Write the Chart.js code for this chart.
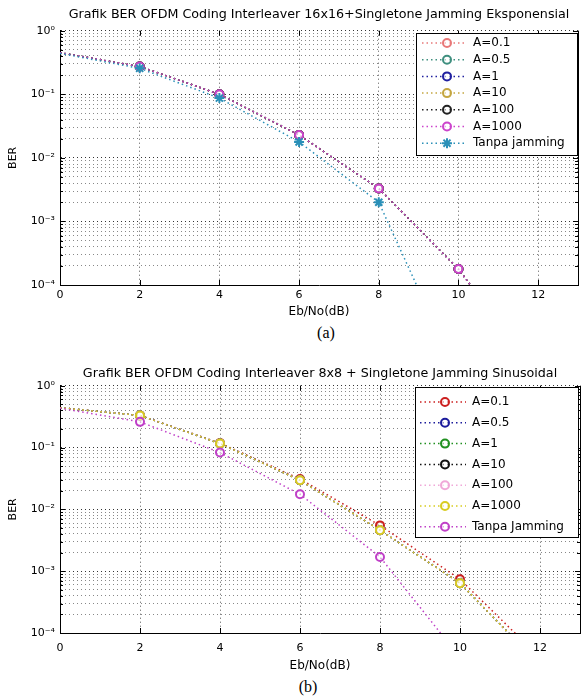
<!DOCTYPE html>
<html lang="id">
<head>
<meta charset="UTF-8">
<title>Grafik BER OFDM</title>
<script src="https://cdn.jsdelivr.net/npm/chart.js"></script>
<style>
  body { margin: 0; background: #fff; width: 588px; height: 698px; position: relative; overflow: hidden; }
  .box { position: absolute; left: 0; }
  .cap { position: absolute; font-family: "Liberation Serif", serif; font-size: 16px; color: #000; transform: translate(-50%, -50%); }
</style>
</head>
<body>
<div class="box" style="top:0"><canvas id="chartA" width="588" height="322"></canvas></div>
<div class="cap" style="left:326px; top:333px">(a)</div>
<div class="box" style="top:358px"><canvas id="chartB" width="588" height="318"></canvas></div>
<div class="cap" style="left:308px; top:687px">(b)</div>
<script>
// data
const X_VALS = [0, 2, 4, 6, 8, 10, 12];
const X_TICKS = [0, 2, 4, 6, 8, 10, 12];
const Y_DECADES = [1e-4, 1e-3, 1e-2, 1e-1, 1];
const Y_LABELS = ['10\u207B\u2074', '10\u207B\u00B3', '10\u207B\u00B2', '10\u207B\u00B9', '10\u2070'];

// (a) eksponensial, 16x16
const TITLE_A = 'Grafik BER OFDM Coding Interleaver 16x16+Singletone Jamming Eksponensial';
const LABELS_A = ['A=0.1', 'A=0.5', 'A=1', 'A=10', 'A=100', 'A=1000', 'Tanpa jamming'];
const COLORS_A = ['#e87878', '#3f8f7f', '#2020a0', '#c4a640', '#222222', '#cc44cc', '#2a90b8'];
const BER_A_JAM = [0.45, 0.274, 0.1, 0.0229, 0.0033, 0.000178, 0.0000038];
const BER_A_NOJAM = [0.44, 0.256, 0.087, 0.0178, 0.002, 0.0000036, 0.00000001];

// (b) sinusoidal, 8x8
const TITLE_B = 'Grafik BER OFDM Coding Interleaver 8x8 + Singletone Jamming Sinusoidal';
const LABELS_B = ['A=0.1', 'A=0.5', 'A=1', 'A=10', 'A=100', 'A=1000', 'Tanpa Jamming'];
const COLORS_B = ['#cc2020', '#1c1c9c', '#209020', '#111111', '#f0a8d8', '#d8cc20', '#c040c8'];
const BER_B_A01 = [0.44, 0.33, 0.118, 0.031, 0.0055, 0.00074, 0.00004];
const BER_B_JAM = [0.44, 0.33, 0.116, 0.0295, 0.0046, 0.00064, 0.00003];
const BER_B_NOJAM = [0.43, 0.26, 0.083, 0.0175, 0.0017, 0.00004, 0.0000001];

const FONT = '"DejaVu Sans", sans-serif';

// all 1..9 x 10^n positions for the log grid
const Y_GRID = [];
Y_DECADES.slice(0, -1).forEach(d => { for (let k = 1; k <= 9; k++) Y_GRID.push(k * d); });
Y_GRID.push(1);

function isDecade(v) {
  return Y_DECADES.findIndex(d => Math.abs(v / d - 1) < 1e-9);
}

function series(label, color, values, idx, total, star) {
  return {
    label: label,
    data: X_VALS.map((x, i) => ({ x: x, y: values[i] })),
    borderColor: color,
    borderWidth: 1.5,
    borderDash: [1.5, 3],
    tension: 0,
    cubicInterpolationMode: 'default',
    pointStyle: star ? 'star' : 'circle',
    pointRadius: c => (c.raw && c.raw.x === 0) ? 0 : (star ? 5 : 4),
    pointBorderWidth: 2,
    pointBorderColor: color,
    pointBackgroundColor: 'rgba(255,255,255,0.55)',
    order: total - idx,
    fill: false
  };
}

// inward ticks + solid right edge, like the matlab box
const frameTicks = {
  id: 'frameTicks',
  afterDraw(chart) {
    const { ctx, chartArea: a, scales } = chart;
    ctx.save();
    ctx.strokeStyle = '#000';
    ctx.lineWidth = 1;
    ctx.setLineDash([]);
    ctx.beginPath();
    ctx.moveTo(Math.round(a.right) + 0.5, a.top);
    ctx.lineTo(Math.round(a.right) + 0.5, a.bottom);
    X_TICKS.forEach(v => {
      const px = Math.round(scales.x.getPixelForValue(v)) + 0.5;
      ctx.moveTo(px, a.bottom); ctx.lineTo(px, a.bottom - 5);
      ctx.moveTo(px, a.top); ctx.lineTo(px, a.top + 5);
    });
    Y_GRID.forEach(v => {
      const py = Math.round(scales.y.getPixelForValue(v)) + 0.5;
      const len = isDecade(v) >= 0 ? 5 : 3;
      ctx.moveTo(a.left, py); ctx.lineTo(a.left + len, py);
      ctx.moveTo(a.right, py); ctx.lineTo(a.right - len, py);
    });
    ctx.stroke();
    ctx.restore();
  }
};

function drawMarker(ctx, ds, x, y) {
  ctx.strokeStyle = ds.pointBorderColor;
  ctx.lineWidth = ds.pointBorderWidth;
  if (ds.pointStyle === 'star') {
    const r = 5, d = r * Math.SQRT1_2;
    ctx.beginPath();
    ctx.moveTo(x - r, y); ctx.lineTo(x + r, y);
    ctx.moveTo(x, y - r); ctx.lineTo(x, y + r);
    ctx.moveTo(x - d, y - d); ctx.lineTo(x + d, y + d);
    ctx.moveTo(x - d, y + d); ctx.lineTo(x + d, y - d);
    ctx.stroke();
  } else {
    ctx.beginPath();
    ctx.arc(x, y, 4, 0, Math.PI * 2);
    ctx.fillStyle = ds.pointBackgroundColor;
    ctx.fill();
    ctx.stroke();
  }
}

const legendBox = {
  id: 'legendBox',
  afterDraw(chart, args, o) {
    const ctx = chart.ctx;
    ctx.save();
    ctx.fillStyle = '#fff';
    ctx.fillRect(o.x1, o.y1, o.x2 - o.x1, o.y2 - o.y1);
    ctx.strokeStyle = '#000';
    ctx.lineWidth = 1;
    ctx.strokeRect(o.x1 + 0.5, o.y1 + 0.5, o.x2 - o.x1, o.y2 - o.y1);
    chart.data.datasets.forEach((ds, i) => {
      const y = o.row0 + i * o.step;
      ctx.strokeStyle = ds.borderColor;
      ctx.lineWidth = ds.borderWidth;
      ctx.setLineDash(ds.borderDash);
      ctx.beginPath();
      ctx.moveTo(o.lineX1, y); ctx.lineTo(o.lineX2, y);
      ctx.stroke();
      ctx.setLineDash([]);
      drawMarker(ctx, ds, o.markX, y);
      ctx.fillStyle = '#000';
      ctx.font = '12px ' + FONT;
      ctx.textBaseline = 'middle';
      ctx.textAlign = 'left';
      ctx.fillText(ds.label, o.textX, y);
    });
    ctx.restore();
  }
};

function makeChart(id, title, datasets, lay) {
  return new Chart(document.getElementById(id), {
    type: 'line',
    data: { datasets: datasets },
    plugins: [frameTicks, legendBox],
    options: {
      responsive: false,
      animation: false,
      layout: { padding: { left: 0, right: lay.right, top: 0, bottom: 0 } },
      plugins: {
        legend: { display: false },
        tooltip: { enabled: false },
        title: {
          display: true, text: title, fullSize: false, color: '#000',
          font: { family: FONT, size: 12.7, weight: 'normal', lineHeight: 1 },
          padding: lay.titlePad
        },
        legendBox: lay.legend
      },
      scales: {
        x: {
          type: 'linear', min: 0, max: 13,
          afterBuildTicks: s => { s.ticks = X_TICKS.map(v => ({ value: v })); },
          afterFit: s => { s.height = lay.xh; },
          ticks: { color: '#000', font: { family: FONT, size: 11 }, padding: lay.xTickPad, maxRotation: 0, autoSkip: false },
          grid: { color: '#555', lineWidth: 1, drawTicks: false },
          border: { color: '#000', width: 1, dash: [1, 3] },
          title: {
            display: true, text: 'Eb/No(dB)', color: '#000',
            font: { family: FONT, size: 12, lineHeight: 1.2 },
            padding: { top: 0, bottom: lay.xTitlePad }
          }
        },
        y: {
          type: 'logarithmic', min: 1e-4, max: 1,
          afterBuildTicks: s => { s.ticks = Y_GRID.map(v => ({ value: v })); },
          afterFit: s => { s.width = 60; },
          ticks: {
            color: '#000', font: { family: FONT, size: 11 }, padding: 5, autoSkip: false,
            callback: v => { const k = isDecade(v); return k >= 0 ? Y_LABELS[k] : ''; }
          },
          grid: {
            color: c => (c.tick && isDecade(c.tick.value) >= 0) ? '#333' : '#888',
            lineWidth: 1, drawTicks: false
          },
          border: { color: '#000', width: 1, dash: [1, 3] },
          title: {
            display: true, text: 'BER', color: '#000',
            font: { family: FONT, size: 11, lineHeight: 1.2 },
            padding: { top: 6.4, bottom: 0 }
          }
        }
      }
    }
  });
}

const dsA = LABELS_A.map((lab, i) =>
  series(lab, COLORS_A[i], i < 6 ? BER_A_JAM : BER_A_NOJAM, i, LABELS_A.length, i === 6));
const dsB = LABELS_B.map((lab, i) =>
  series(lab, COLORS_B[i], i === 0 ? BER_B_A01 : (i < 6 ? BER_B_JAM : BER_B_NOJAM), i, LABELS_B.length, false));

makeChart('chartA', TITLE_A, dsA, {
  right: 10, xh: 37, xTickPad: 4, xTitlePad: 2.8,
  titlePad: { top: 8.5, bottom: 9.5 },
  legend: { x1: 416, y1: 33, x2: 577, y2: 155, row0: 43, step: 16.7, lineX1: 422, lineX2: 467, markX: 447, textX: 473 }
});

makeChart('chartB', TITLE_B, dsB, {
  right: 8, xh: 43, xTickPad: 9, xTitlePad: 2.5,
  titlePad: { top: 9, bottom: 6 },
  legend: { x1: 415, y1: 29, x2: 578, y2: 179, row0: 44, step: 20.8, lineX1: 420, lineX2: 466, markX: 445, textX: 472 }
});
</script>
</body>
</html>
